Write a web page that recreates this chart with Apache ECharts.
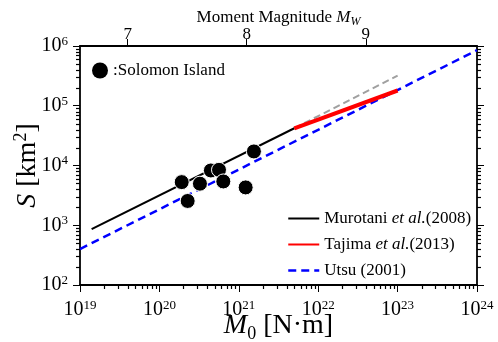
<!DOCTYPE html>
<html>
<head>
<meta charset="utf-8">
<script src="https://cdn.jsdelivr.net/npm/echarts@6/dist/echarts.min.js"></script>
<style>
  html, body { margin: 0; padding: 0; background: #fff; }
  #chart { width: 498px; height: 342px; }
</style>
</head>
<body>
<div id="chart"></div>
<script>
// Rupture area S [km²] against seismic moment M0 [N·m]

// Solomon Island events
const solomonM0 = [1.91e20, 2.27e20, 3.24e20, 4.45e20, 5.63e20, 6.38e20, 1.22e21, 1.55e21];
const solomonS  = [5270, 2550, 4960, 8260, 8470, 5410, 4300, 17200];

// Scaling relations, end points of each straight segment (log-log)
const murotaniM0 = [1.4e19, 5.0e21];
const murotaniS  = [860, 4.2e4];
const murotaniExtM0 = [5.0e21, 1.0e23];
const murotaniExtS  = [4.2e4, 3.2e5];
const tajimaM0 = [5.0e21, 1.0e23];
const tajimaS  = [4.2e4, 1.8e5];
const utsuM0 = [1.0e19, 1.0e24];
const utsuS  = [400, 8.5e5];

// Axis ranges and the moment-magnitude ticks on the top axis
const m0Range = [1e19, 1e24];
const sRange = [1e2, 1e6];
const mwTicks = [7, 8, 9];

const FONT = 'Liberation Serif';
const toMw = m0 => (Math.log10(m0) - 9.1) / 1.5;

// minor tick values (2..9 × 10^n) for both log axes
function minorValues(lo, hi) {
  const out = [];
  for (let e = Math.round(Math.log10(lo)); e < Math.round(Math.log10(hi)); e++) {
    for (let k = 2; k <= 9; k++) out.push(k * Math.pow(10, e));
  }
  return out;
}
const xMinor = minorValues(m0Range[0], m0Range[1]);
const yMinor = minorValues(sRange[0], sRange[1]);

const pairs = (xs, ys) => xs.map((x, i) => [x, ys[i]]);
const powLabel = v => '{b|10}{s|' + Math.round(Math.log10(v)) + '}';
const powRich = {
  b: { fontFamily: FONT, fontSize: 20, lineHeight: 22, color: '#000' },
  s: { fontFamily: FONT, fontSize: 13, lineHeight: 13, color: '#000', verticalAlign: 'top' }
};
const axisLine = () => ({ show: true, lineStyle: { color: '#000', width: 1.8 } });
const majorTick = () => ({ show: true, inside: false, length: 7, lineStyle: { color: '#000', width: 1 } });

const legendNames = {
  'Murotani et al.(2008)': '{n|Murotani }{i|et al.}{n|(2008)}',
  'Tajima et al.(2013)': '{n|Tajima }{i|et al.}{n|(2013)}',
  'Utsu (2001)': '{n|Utsu (2001)}'
};
const legendRich = {
  n: { fontFamily: FONT, fontSize: 17, color: '#000' },
  i: { fontFamily: FONT, fontSize: 17, color: '#000', fontStyle: 'italic' }
};
const hiddenSymbol = { opacity: 0 };

const chart = echarts.init(document.getElementById('chart'), null, { renderer: 'canvas' });
chart.setOption({
  animation: false,
  backgroundColor: '#fff',
  grid: { left: 80, right: 21, top: 46, bottom: 57, containLabel: false, outerBoundsMode: 'none' },
  legend: [
    {
      data: ['Solomon Island'],
      left: 92, top: 62, padding: 0,
      icon: 'circle', itemWidth: 16, itemHeight: 16,
      formatter: ':{name}',
      itemStyle: { opacity: 1, borderWidth: 0 },
      textStyle: { fontFamily: FONT, fontSize: 17, color: '#000' }
    },
    {
      data: [
        { name: 'Murotani et al.(2008)', lineStyle: { width: 2 }, itemStyle: hiddenSymbol },
        { name: 'Tajima et al.(2013)', lineStyle: { width: 2 }, itemStyle: hiddenSymbol },
        { name: 'Utsu (2001)', lineStyle: { width: 2.5 }, itemStyle: hiddenSymbol }
      ],
      orient: 'vertical', left: 287, top: 210, padding: 0,
      itemWidth: 31, itemHeight: 14, itemGap: 9,
      formatter: name => legendNames[name],
      textStyle: { fontFamily: FONT, fontSize: 17, color: '#000', rich: legendRich }
    }
  ],
  xAxis: [
    {
      type: 'log', logBase: 10, min: m0Range[0], max: m0Range[1], position: 'bottom',
      name: '{i|M}{sub|0} [N·m]', nameLocation: 'middle', nameGap: 24, nameMoveOverlap: false,
      nameTextStyle: {
        fontFamily: FONT, fontSize: 28, color: '#000',
        rich: {
          i: { fontFamily: FONT, fontSize: 28, lineHeight: 34, fontStyle: 'italic', color: '#000' },
          sub: { fontFamily: FONT, fontSize: 18, lineHeight: 18, verticalAlign: 'bottom', color: '#000' },
          '': { fontFamily: FONT, fontSize: 28, lineHeight: 34, color: '#000' }
        }
      },
      axisLine: axisLine(),
      axisTick: majorTick(),
      axisLabel: { margin: 14, formatter: powLabel, rich: powRich },
      splitLine: { show: false }
    },
    {
      type: 'value', min: toMw(m0Range[0]), max: toMw(m0Range[1]), position: 'top',
      name: '{n|Moment Magnitude }{i|M}{sub|W}', nameLocation: 'middle', nameGap: 18, nameMoveOverlap: false,
      nameTextStyle: {
        rich: {
          n: { fontFamily: FONT, fontSize: 17, lineHeight: 20, color: '#000' },
          i: { fontFamily: FONT, fontSize: 17, lineHeight: 20, fontStyle: 'italic', color: '#000' },
          sub: { fontFamily: FONT, fontSize: 12, lineHeight: 12, fontStyle: 'italic', verticalAlign: 'bottom', color: '#000' }
        }
      },
      axisLine: axisLine(),
      axisTick: Object.assign(majorTick(), { customValues: mwTicks }),
      axisLabel: { margin: 3, customValues: mwTicks, fontFamily: FONT, fontSize: 17, color: '#000' },
      splitLine: { show: false }
    }
  ],
  yAxis: [
    {
      type: 'log', logBase: 10, min: sRange[0], max: sRange[1], position: 'left',
      name: '{i|S} [km{sup|2}]', nameLocation: 'middle', nameGap: 36, nameRotate: 90, nameMoveOverlap: false,
      nameTextStyle: {
        fontFamily: FONT, fontSize: 28, color: '#000',
        rich: {
          i: { fontFamily: FONT, fontSize: 28, lineHeight: 32, fontStyle: 'italic', color: '#000' },
          sup: { fontFamily: FONT, fontSize: 18, lineHeight: 18, verticalAlign: 'top', color: '#000' },
          '': { fontFamily: FONT, fontSize: 28, lineHeight: 32, color: '#000' }
        }
      },
      axisLine: axisLine(),
      axisTick: majorTick(),
      axisLabel: { margin: 12, formatter: powLabel, rich: powRich },
      splitLine: { show: false }
    },
    {
      type: 'log', logBase: 10, min: sRange[0], max: sRange[1], position: 'right',
      axisLine: axisLine(),
      axisTick: majorTick(),
      axisLabel: { show: false },
      splitLine: { show: false }
    }
  ],
  series: [
    {
      name: 'Utsu (2001)', type: 'line', data: pairs(utsuM0, utsuS),
      showSymbol: false, symbol: 'none', color: '#0000ff',
      lineStyle: { color: '#0000ff', width: 2.5, type: [8, 5] }, z: 3
    },
    {
      name: 'Murotani extension', type: 'line', data: pairs(murotaniExtM0, murotaniExtS),
      showSymbol: false, symbol: 'none', color: '#a0a0a0',
      lineStyle: { color: '#a0a0a0', width: 2, type: [7, 4] }, z: 3
    },
    {
      name: 'Murotani et al.(2008)', type: 'line', data: pairs(murotaniM0, murotaniS),
      showSymbol: false, symbol: 'none', color: '#000',
      lineStyle: { color: '#000', width: 2 }, z: 4
    },
    {
      name: 'Tajima et al.(2013)', type: 'line', data: pairs(tajimaM0, tajimaS),
      showSymbol: false, symbol: 'none', color: '#ff0000',
      lineStyle: { color: '#ff0000', width: 4 }, z: 4
    },
    {
      name: 'Solomon Island', type: 'scatter', data: pairs(solomonM0, solomonS),
      symbol: 'circle', symbolSize: 15, color: '#000',
      itemStyle: { color: '#000', opacity: 1, borderColor: '#fff', borderWidth: 1 }, z: 5
    }
  ]
});

// Minor ticks (2..9 × 10^n), placed through the axes' own scales
const toPx = p => chart.convertToPixel({ xAxisIndex: 0, yAxisIndex: 0 }, p);
const tick = (x1, y1, x2, y2) => ({
  type: 'line', silent: true, z: 100,
  shape: { x1: x1, y1: y1, x2: x2, y2: y2 },
  style: { stroke: '#000', lineWidth: 1.2 }
});
const minorTicks = [];
xMinor.forEach(v => {
  const p = toPx([v, sRange[0]]);
  const x = Math.round(p[0]) + 0.5;
  minorTicks.push(tick(x, p[1], x, p[1] + 4));
});
yMinor.forEach(v => {
  const l = toPx([m0Range[0], v]);
  const r = toPx([m0Range[1], v]);
  const y = Math.round(l[1]) + 0.5;
  minorTicks.push(tick(l[0] - 4, y, l[0], y));
  minorTicks.push(tick(r[0], y, r[0] + 4, y));
});
chart.setOption({ graphic: { elements: minorTicks } });
</script>
</body>
</html>
